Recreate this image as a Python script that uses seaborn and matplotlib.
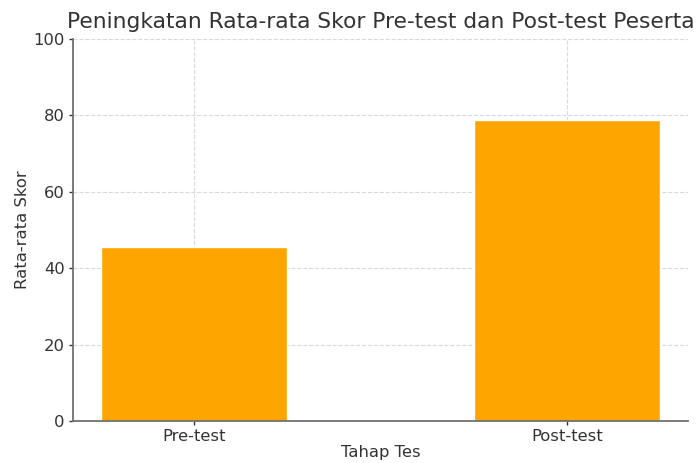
import pandas as pd
import matplotlib
matplotlib.use('Agg')
import matplotlib.pyplot as plt
import seaborn as sns

# data
stages = ['Pre-test', 'Post-test']
scores = [45.5, 78.7]

sns.set_style('white')
plt.rcParams['font.family'] = ['DejaVu Sans']

df = pd.DataFrame({'Tahap Tes': stages, 'Rata-rata Skor': scores})

fig = plt.figure(figsize=(6.99, 4.63), dpi=100)
ax = fig.add_axes([0.1044, 0.0907, 0.8800, 0.8251])

sns.barplot(data=df, x='Tahap Tes', y='Rata-rata Skor', color='orange',
            saturation=1, width=0.5, ax=ax, zorder=2)

ax.set_xlim(-0.325, 1.325)
ax.set_ylim(0, 100)
ax.set_yticks([0, 20, 40, 60, 80, 100])

ax.grid(True, linestyle='--', color='#d9d9d9', linewidth=0.8, zorder=0)
ax.set_axisbelow(True)

for side in ['top', 'right']:
    ax.spines[side].set_visible(False)
for side in ['left', 'bottom']:
    ax.spines[side].set_color('#707070')
    ax.spines[side].set_linewidth(1.3)

ax.tick_params(axis='both', labelsize=11.8, colors='#333333', length=3,
               width=1, direction='out', left=True, bottom=True, pad=3)
ax.set_title('Peningkatan Rata-rata Skor Pre-test dan Post-test Peserta',
             fontsize=15.7, color='#333333', pad=8)
# label sits at the very bottom edge, as in the reference
ax.set_xlabel('Tahap Tes', fontsize=11.8, color='#333333', labelpad=0.5)
ax.set_ylabel('Rata-rata Skor', fontsize=11.8, color='#333333', labelpad=2)

fig.savefig('out.png', dpi=100)
